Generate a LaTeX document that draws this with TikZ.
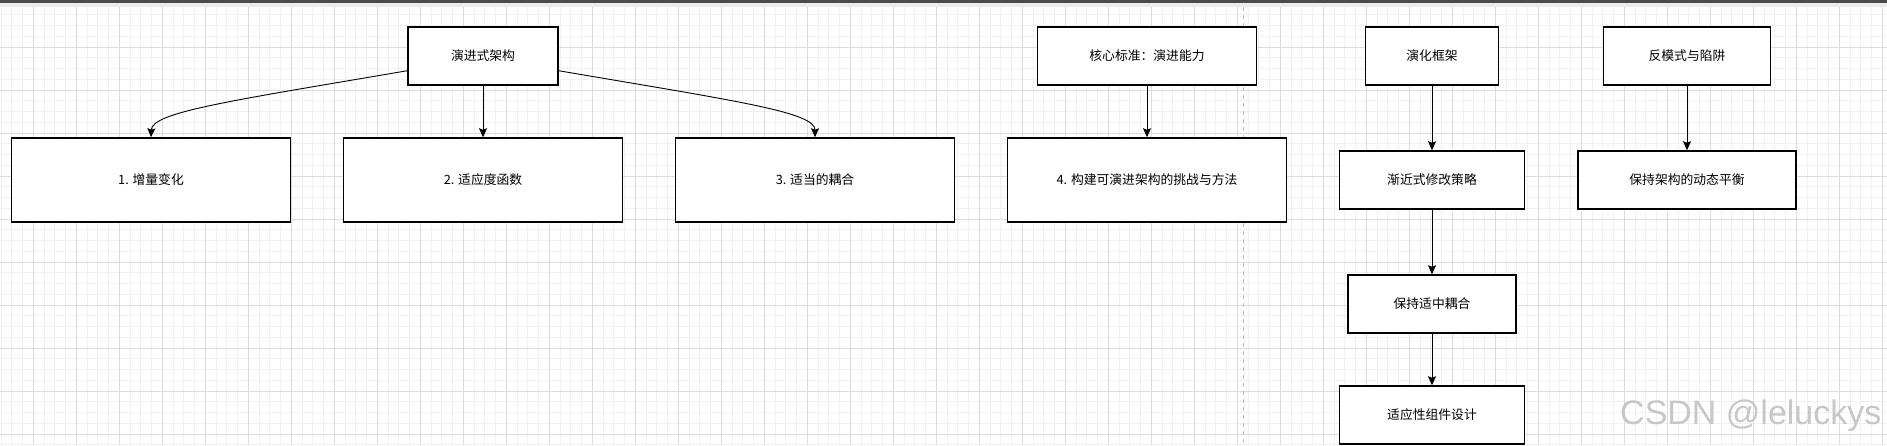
\documentclass[tikz,border=0pt]{standalone}
\usepackage{fontspec}
\setmainfont{Noto Sans CJK SC}
\newfontfamily\wmfont{Liberation Sans}
\usetikzlibrary{arrows.meta,positioning}
\definecolor{gmajc}{HTML}{DCDCDC}
\definecolor{gminc}{HTML}{F1F1F1}
\definecolor{barc}{HTML}{4B4B4B}
\definecolor{bandc}{HTML}{ECECEC}
\tikzset{bx/.style={draw,line width=1.5pt,fill=white,align=center,font=\fontsize{12.8}{15}\selectfont,inner sep=2pt,minimum height=58pt},
 wb/.style={bx,minimum width=279pt,minimum height=84pt},
 ar/.style={-{Stealth[length=9pt,width=8pt,inset=1.5pt]},line width=0.9pt},
 gmin/.style={gminc,line width=0.8pt},gmaj/.style={gmajc,line width=0.9pt},
 pgline/.style={draw=black!25,line width=1.2pt,dash pattern=on 4.5pt off 3.5pt},
 wm/.style={font=\wmfont\fontsize{34}{40}\selectfont,text=black!22,inner sep=0pt}}
\begin{document}
\begin{tikzpicture}[x=1pt,y=1pt,node distance=51.5pt]
\useasboundingbox (0,0) rectangle (1887,-445);
\fill[white] (0,0) rectangle (1887,-445);
% canvas grid
\begin{scope}
\clip (0,-6.7) rectangle (1887,-445);
\foreach\i in {0,...,175}{\draw[gmin] ({1.05+10.75*\i},0) -- ++(0,-445);}
\foreach\j in {0,...,41}{\draw[gmin] (0,{-4-10.75*\j}) -- ++(1887,0);}
\foreach\i in {0,...,43}{\draw[gmaj] ({33.3+43*\i},0) -- ++(0,-445);}
\foreach\j in {0,...,10}{\draw[gmaj] (0,{-4-43*\j}) -- ++(1887,0);}
\end{scope}
\fill[barc] (0,0) rectangle (1887,-3.3);
\fill[bandc] (0,-3.3) rectangle (1887,-6.7);
\draw[pgline] (1243.7,-6.7) -- (1243.7,-445);
% left part
\node[wb](p1) at (151,-180){1. 增量变化};
\node[wb,right=of p1](p2){2. 适应度函数};
\node[wb,right=of p2](p3){3. 适当的耦合};
\node[wb,right=of p3](p4){4. 构建可演进架构的挑战与方法};
\node[bx,minimum width=150pt,above=of p2](arch){演进式架构};
\node[bx,minimum width=219pt,above=of p4](core){核心标准：演进能力};
% right part
\node[bx,minimum width=133pt](evo) at (1432,-56){演化框架};
\node[bx,minimum width=185pt](inc) at (1432,-180){渐近式修改策略};
\node[bx,minimum width=168pt](mod) at (1432,-304){保持适中耦合};
\node[bx,minimum width=185pt](adp) at (1432,-415){适应性组件设计};
\node[bx,minimum width=167pt](anti) at (1687,-56){反模式与陷阱};
\node[bx,minimum width=218pt](bal) at (1687,-180){保持架构的动态平衡};
\draw[ar](arch.191) .. controls (230,-101) and (152,-112) .. (p1.north);
\draw[ar](arch)--(p2);
\draw[ar](arch.-11) .. controls (736,-101) and (815,-112) .. (p3.north);
\draw[ar](core)--(p4);
\foreach\x/\y in {evo/inc,inc/mod,mod/adp,anti/bal}{\draw[ar](\x)--(\y);}
\node[wm,anchor=base west](mark) at (1620,-424){CSDN @leluckys};
\end{tikzpicture}
\end{document}
